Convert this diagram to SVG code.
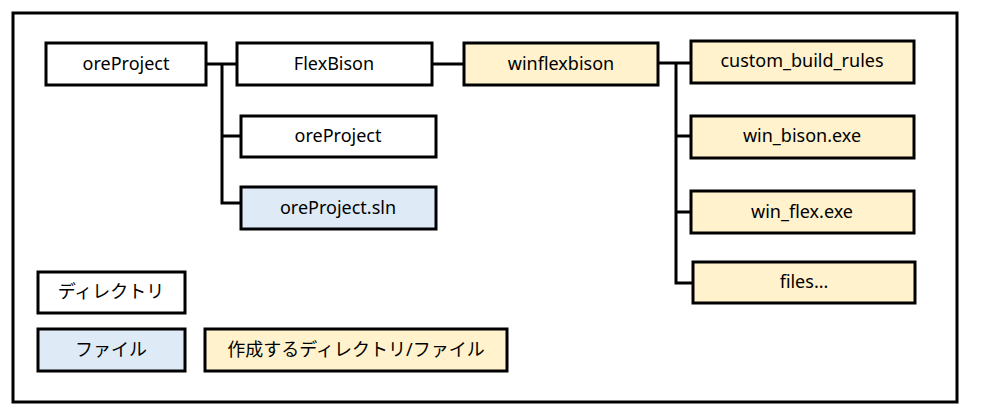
<svg xmlns="http://www.w3.org/2000/svg" width="981" height="416" viewBox="0 0 981 416">
<style>
.b{stroke:#000;stroke-width:3;}
.d{fill:#fff;}
.f{fill:#DEEBF7;}
.n{fill:#FFF2CC;}
text{font-family:"Noto Sans","Noto Sans CJK JP",sans-serif;font-size:18px;fill:#000;text-anchor:middle;}
.c{fill:none;stroke:#000;stroke-width:3;}
</style>
<rect width="981" height="416" fill="#fff"/>
<rect x="13" y="13" width="944" height="389" fill="none" stroke="#000" stroke-width="3"/>
<g id="connectors">
<path class="c" d="M206 64H237M222 64V203H241M222 136H241"/>
<path class="c" d="M432 64H464"/>
<path class="c" d="M658 63H691M676 63V283H693M676 136H691M676 212H691"/>
</g>
<g id="root"><rect class="b d" x="46" y="43" width="160" height="42"/><text x="126" y="70">oreProject</text></g>
<g id="flexbison"><rect class="b d" x="237" y="43" width="195" height="42"/><text x="334" y="70">FlexBison</text></g>
<g id="oreproject2"><rect class="b d" x="241" y="116" width="195" height="41"/><text x="338" y="142">oreProject</text></g>
<g id="sln"><rect class="b f" x="241" y="187" width="195" height="42"/><text x="338" y="214">oreProject.sln</text></g>
<g id="winflexbison"><rect class="b n" x="464" y="43" width="194" height="42"/><text x="561" y="70">winflexbison</text></g>
<g id="custom"><rect class="b n" x="691" y="41" width="223" height="42"/><text x="802" y="67">custom_build_rules</text></g>
<g id="winbison"><rect class="b n" x="691" y="116" width="223" height="42"/><text x="802" y="142">win_bison.exe</text></g>
<g id="winflex"><rect class="b n" x="691" y="191" width="223" height="42"/><text x="802" y="218">win_flex.exe</text></g>
<g id="files"><rect class="b n" x="693" y="262" width="222" height="41"/><text x="804" y="288">files...</text></g>
<g id="legend-dir"><rect class="b d" x="38" y="272" width="147" height="41"/><text x="111" y="298">ディレクトリ</text></g>
<g id="legend-file"><rect class="b f" x="38" y="329" width="147" height="42"/><text x="111" y="356">ファイル</text></g>
<g id="legend-new"><rect class="b n" x="205" y="329" width="302" height="42"/><text x="356" y="356">作成するディレクトリ/ファイル</text></g>
</svg>
